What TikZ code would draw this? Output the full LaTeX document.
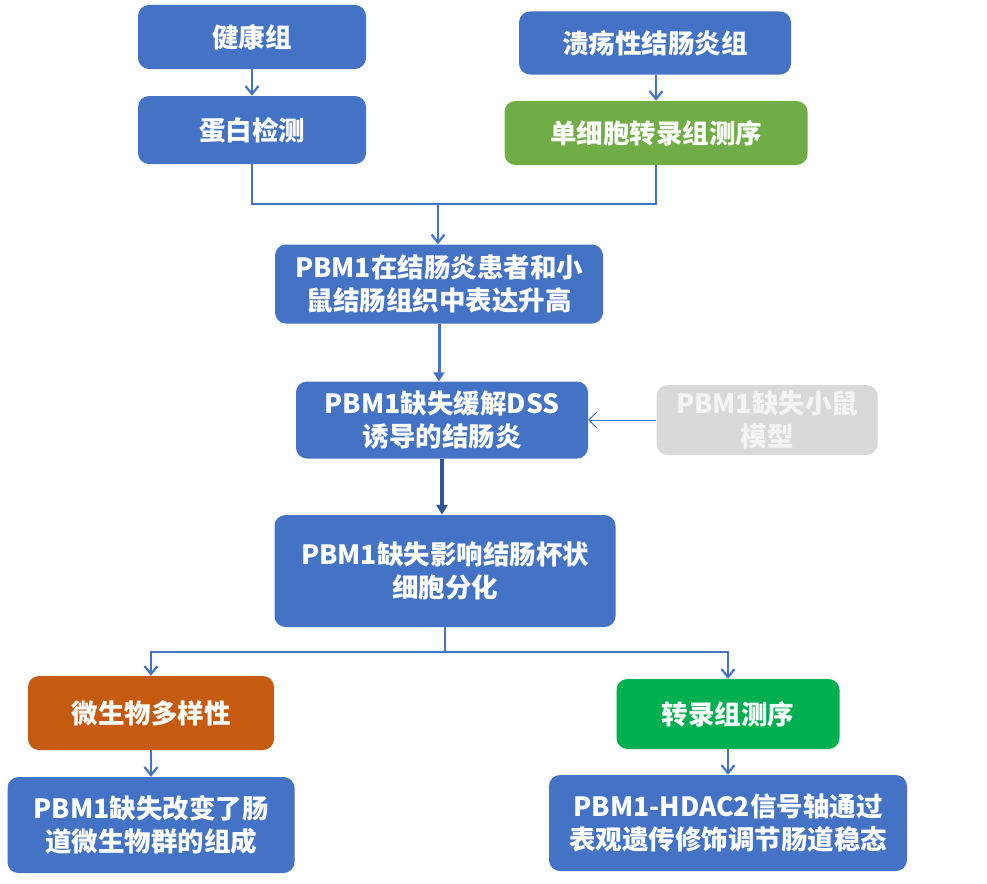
\documentclass[tikz,border=0pt]{standalone}
\usepackage{fontspec}
\setmainfont{Noto Sans CJK SC}
\usetikzlibrary{arrows.meta}
\definecolor{cblue}{HTML}{4472C4}
\definecolor{cdblue}{HTML}{2F5597}
\definecolor{cgreenA}{HTML}{70AD47}
\definecolor{cgreenB}{HTML}{00B050}
\definecolor{cbrown}{HTML}{C55A11}
\definecolor{cgray}{HTML}{D9D9D9}
\definecolor{cgraytxt}{HTML}{F4F4F4}
\tikzset{
  box/.style={rectangle, rounded corners=11pt, fill=cblue, text=white, align=center,
    inner sep=0pt, font=\fontsize{26.5}{33}\selectfont\bfseries},
  conn/.style={draw=cblue, line width=2.2pt},
  arr/.style={conn, -{Straight Barb[length=8pt,width=13pt,line width=2.2pt]}},
  medarr/.style={draw=cblue, line width=3pt, -{Triangle[length=9pt,width=11pt]}},
  thickarr/.style={draw=cdblue, line width=3.4pt, -{Triangle[length=10pt,width=11pt]}},
  thinarr/.style={draw=cblue, line width=1pt, -{Straight Barb[length=8pt,width=16pt,line width=1pt]}}
}
\begin{document}
\begin{tikzpicture}[x=1pt,y=-1pt]
\useasboundingbox (0,0) rectangle (987,883);
\node[box, minimum width=228pt, minimum height=64pt] (a) at (252,37) {健康组};
\node[box, minimum width=228pt, minimum height=68pt] (b) at (252,130) {蛋白检测};
\node[box, minimum width=272pt, minimum height=63pt] (c) at (655,43) {溃疡性结肠炎组};
\node[box, fill=cgreenA, minimum width=303pt, minimum height=64pt] (d) at (656,133) {单细胞转录组测序};
\node[box, minimum width=328pt, minimum height=79pt] (e) at (439,284) {PBM1在结肠炎患者和小\\鼠结肠组织中表达升高};
\node[box, minimum width=292pt, minimum height=77pt] (f) at (442,420) {PBM1缺失缓解DSS\\诱导的结肠炎};
\node[box, fill=cgray, text=cgraytxt, minimum width=221pt, minimum height=70pt] (m) at (767,420) {PBM1缺失小鼠\\模型};
\node[box, minimum width=341pt, minimum height=112pt] (g) at (445,571) {PBM1缺失影响结肠杯状\\细胞分化};
\node[box, fill=cbrown, minimum width=246pt, minimum height=74pt] (h) at (151,713) {微生物多样性};
\node[box, fill=cgreenB, minimum width=223pt, minimum height=70pt] (k) at (728,714) {转录组测序};
\node[box, minimum width=287pt, minimum height=96pt] (p) at (151,825) {PBM1缺失改变了肠\\道微生物群的组成};
\node[box, minimum width=358pt, minimum height=96pt] (q) at (728,823) {PBM1-HDAC2信号轴通过\\表观遗传修饰调节肠道稳态};
\coordinate (j1) at (438,204);
\coordinate (j2) at (445,652);
\draw[arr] (a) -- (b);
\draw[arr] (c.south -| d) -- (d.north);
\draw[conn] (b.south) |- (j1);
\draw[conn] (d.south) |- (j1);
\draw[arr] (j1) -- (j1 |- e.north);
\draw[medarr] (e.south) -- (e.south |- f.north);
\draw[thinarr] (m.west) -- (f.east);
\draw[thickarr] (f.south) -- (f.south |- g.north);
\draw[conn] (g.south) -- (j2);
\draw[arr] (j2) -| (h.north);
\draw[arr] (j2) -| (k.north);
\draw[arr] (h) -- (p);
\draw[arr] (k) -- (q);
\end{tikzpicture}
\end{document}
